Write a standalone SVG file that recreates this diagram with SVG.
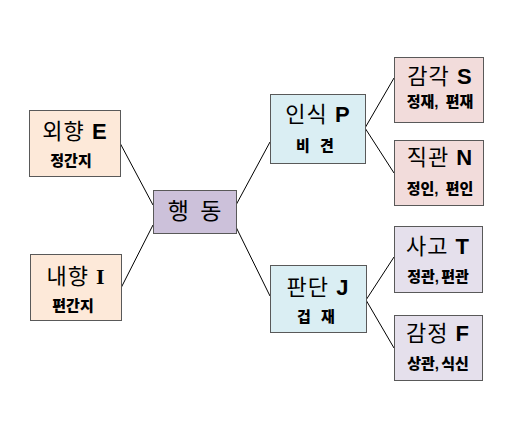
<svg xmlns="http://www.w3.org/2000/svg" width="526" height="444" viewBox="0 0 526 444">
<style>
rect{stroke:#595959;stroke-width:1}
.e{fill:#fde9d9}.c{fill:#ccc1da}.b{fill:#daeef3}.p{fill:#f2dcdb}.v{fill:#e5e0ec}
text{font-family:"Liberation Sans","Noto Sans CJK KR",sans-serif;fill:#000;text-anchor:middle}
.t{font-size:22px;letter-spacing:1px}
.t tspan{font-weight:bold}
.s{font-size:15px;font-weight:900}
line{stroke:#000;stroke-width:1}
</style>
<rect width="526" height="444" fill="#fff" style="stroke:none"/>
<g id="connectors">
<line x1="120" y1="143" x2="153" y2="205"/>
<line x1="121" y1="288" x2="153" y2="225"/>
<line x1="236" y1="205" x2="270" y2="142"/>
<line x1="236" y1="227" x2="270" y2="296"/>
<line x1="365" y1="128" x2="394" y2="78"/>
<line x1="365" y1="128" x2="394" y2="173"/>
<line x1="366" y1="300" x2="394" y2="257"/>
<line x1="366" y1="300" x2="394" y2="348"/>
</g>
<g id="E">
<rect class="e" x="29.5" y="110.5" width="91" height="66"/>
<text class="t" x="75" y="139">외향 <tspan>E</tspan></text>
<text class="s" x="71" y="166">정간지</text>
</g>
<g id="I">
<rect class="e" x="30.5" y="254.5" width="91" height="66"/>
<text class="t" x="76" y="284">내향 <tspan font-family="Liberation Serif">I</tspan></text>
<text class="s" x="73" y="311">편간지</text>
</g>
<g id="action">
<rect class="c" x="153.5" y="190.5" width="83" height="43"/>
<text class="t" x="195" y="219" style="font-size:23px" word-spacing="3">행 동</text>
</g>
<g id="P">
<rect class="b" x="270.5" y="94.5" width="95" height="69"/>
<text class="t" x="318" y="122">인식 <tspan>P</tspan></text>
<text class="s" x="315" y="151" word-spacing="6">비 견</text>
</g>
<g id="J">
<rect class="b" x="270.5" y="265.5" width="96" height="67"/>
<text class="t" x="318" y="295">판단 <tspan>J</tspan></text>
<text class="s" x="316" y="322" word-spacing="6">겁 재</text>
</g>
<g id="S">
<rect class="p" x="394.5" y="57.5" width="89" height="65"/>
<text class="t" x="440" y="84">감각 <tspan>S</tspan></text>
<text class="s" x="440" y="107" word-spacing="3">정재, 편재</text>
</g>
<g id="N">
<rect class="p" x="394.5" y="140.5" width="89" height="65"/>
<text class="t" x="440" y="165">직관 <tspan>N</tspan></text>
<text class="s" x="440" y="194" word-spacing="3">정인, 편인</text>
</g>
<g id="T">
<rect class="v" x="394.5" y="226.5" width="88" height="66"/>
<text class="t" x="438" y="254">사고 <tspan>T</tspan></text>
<text class="s" x="438" y="282" word-spacing="-2">정관, 편관</text>
</g>
<g id="F">
<rect class="v" x="394.5" y="315.5" width="88" height="65"/>
<text class="t" x="438" y="341">감정 <tspan>F</tspan></text>
<text class="s" x="438" y="369" word-spacing="-2">상관, 식신</text>
</g>
</svg>
